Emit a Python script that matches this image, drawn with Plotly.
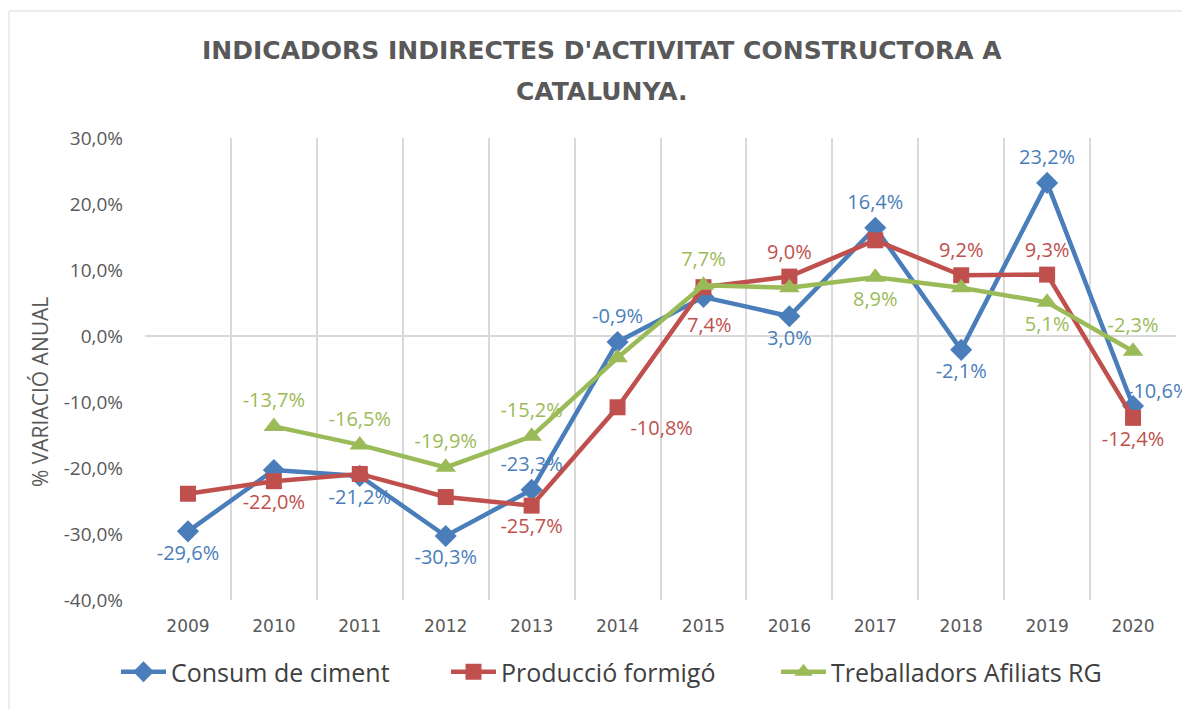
import plotly.graph_objects as go

years = ["2009", "2010", "2011", "2012", "2013", "2014", "2015", "2016", "2017", "2018", "2019", "2020"]
consum_ciment = [-29.6, -20.3, -21.2, -30.3, -23.3, -0.9, 5.9, 3.0, 16.4, -2.1, 23.2, -10.6]
produccio_formigo = [-23.9, -22.0, -20.9, -24.4, -25.7, -10.8, 7.4, 9.0, 14.5, 9.2, 9.3, -12.4]
treballadors_rg = [None, -13.7, -16.5, -19.9, -15.2, -3.3, 7.7, 7.3, 8.9, 7.3, 5.1, -2.3]

y_ticks = [30, 20, 10, 0, -10, -20, -30, -40]

title_lines = ["INDICADORS INDIRECTES D'ACTIVITAT CONSTRUCTORA A", "CATALUNYA."]
y_title = "% VARIACIÓ ANUAL"

# label placement: text position string, (dx, dy) pixel offset, or None (no label)
pos_ciment = ["bottom center", None, "bottom center", "bottom center", "top center", "top center", None,
              "bottom center", "top center", "bottom center", "top center", (25, 15)]
pos_formigo = [None, "bottom center", None, None, "bottom center", "bottom right", (6, -37),
               "top center", None, "top center", "top center", "bottom center"]
pos_treb = [None, "top center", "top center", "top center", "top center", None, "top center",
            None, "bottom center", None, "bottom center", "top center"]


def fmt(v):
    return f"{v:.1f}".replace(".", ",") + "%"


# page has an 8px body margin, so the figure is sized to fit the window
W, H = 1182, 701
ML, MR, MT, MB = 137, 14, 130, 109
PW, PH = W - ML - MR, H - MT - MB

fig = go.Figure()

series = [
    ("Consum de ciment", consum_ciment, pos_ciment, "#4a7ebb", "diamond", 17),
    ("Producció formigó", produccio_formigo, pos_formigo, "#c0504d", "square", 16),
    ("Treballadors Afiliats RG", treballadors_rg, pos_treb, "#9bbb59", "triangle-up", 18),
]

for name, vals, pos, col, sym, ms in series:
    fig.add_trace(go.Scatter(
        x=years, y=vals, name=name, mode="lines+markers",
        line=dict(color=col, width=4.5),
        marker=dict(symbol=sym, size=ms, color=col),
        cliponaxis=False,
    ))
for name, vals, pos, col, sym, ms in series:
    sel = [(y, v, p) for y, v, p in zip(years, vals, pos) if isinstance(p, str) and v is not None]
    fig.add_trace(go.Scatter(
        x=[s[0] for s in sel], y=[s[1] for s in sel], mode="markers+text",
        text=[fmt(s[1]) for s in sel], textposition=[s[2] for s in sel],
        marker=dict(size=ms + 3, opacity=0),
        textfont=dict(color=col, size=20, family="Open Sans"),
        showlegend=False, hoverinfo="skip", cliponaxis=False,
    ))
    for i, (v, p) in enumerate(zip(vals, pos)):
        if isinstance(p, tuple) and v is not None:
            fig.add_annotation(x=i, y=v, xref="x", yref="y", text=fmt(v), showarrow=False,
                               xshift=p[0], yshift=p[1], xanchor="center", yanchor="middle",
                               font=dict(color=col, size=20, family="Open Sans"))


def px_x(px):
    return (px - ML) / PW


def px_y(py):
    return 1 - (py - MT) / PH


fig.add_shape(type="rect", xref="paper", yref="paper",
              x0=px_x(1), x1=px_x(1180), y0=px_y(3), y1=px_y(720),
              line=dict(color="#d9d9d9", width=1), layer="below")

for line, ypx in zip(title_lines, [42, 84]):
    fig.add_annotation(text=f"<b>{line}</b>", xref="paper", yref="paper",
                       x=px_x(594), y=px_y(ypx), xanchor="center", yanchor="middle",
                       showarrow=False,
                       font=dict(family="DejaVu Sans", size=25, color="#595959"))

fig.add_annotation(text=y_title, xref="paper", yref="paper", textangle=-90,
                   x=px_x(32), y=px_y(384), xanchor="center", yanchor="middle",
                   showarrow=False, font=dict(family="Open Sans", size=21, color="#595959"))

fig.update_layout(
    width=W, height=H,
    margin=dict(l=ML, r=MR, t=MT, b=MB, autoexpand=False),
    paper_bgcolor="white", plot_bgcolor="white",
    font=dict(family="Open Sans", color="#595959"),
    legend=dict(orientation="h", xref="paper", x=px_x(603), xanchor="center",
                y=px_y(664), yanchor="middle",
                font=dict(size=25, color="#404040"), itemwidth=45,
                entrywidth=270, entrywidthmode="pixels",
                traceorder="normal"),
    showlegend=True,
)

fig.update_xaxes(
    type="category", tickson="boundaries", showgrid=True, gridcolor="#d9d9d9", gridwidth=2,
    ticks="", showline=False, tickfont=dict(size=17, family="DejaVu Sans", color="#595959"),
    range=[-0.5, 11.5], ticklabelstandoff=14,
)
fig.update_yaxes(
    range=[-40, 30], tickvals=y_ticks, ticktext=[fmt(v) for v in y_ticks],
    showgrid=False, zeroline=True, zerolinecolor="#d9d9d9", zerolinewidth=2,
    showline=False, ticks="", tickfont=dict(size=19, color="#595959"), ticklabelstandoff=21,
)

fig.write_html("out.html")
